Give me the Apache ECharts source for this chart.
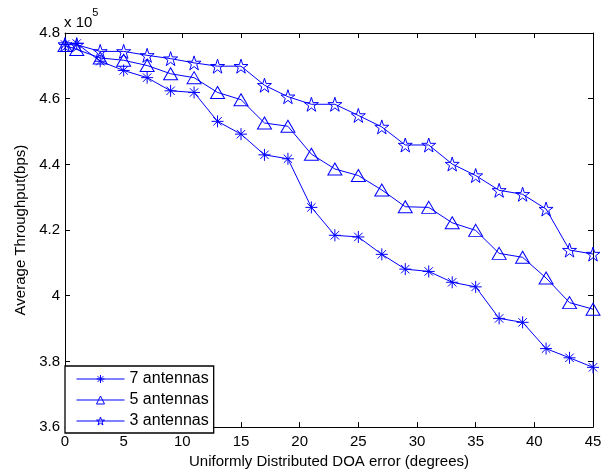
<!DOCTYPE html>
<html>
<head>
<meta charset="utf-8">
<script src="https://cdn.jsdelivr.net/npm/echarts@6/dist/echarts.min.js"></script>
<style>html,body{margin:0;padding:0;background:#fff}#c{width:609px;height:474px}</style>
</head>
<body>
<div id="c"></div>
<script>
const xValues = [0, 1, 3, 5, 7, 9, 11, 13, 15, 17, 19, 21, 23, 25, 27, 29, 31, 33, 35, 37, 39, 41, 43, 45];
const seriesNames = ['7 antennas', '5 antennas', '3 antennas'];
const ant7 = [4.765, 4.768, 4.714, 4.686, 4.664, 4.624, 4.619, 4.531, 4.492, 4.429, 4.417, 4.269, 4.184, 4.179, 4.126, 4.081, 4.074, 4.041, 4.027, 3.931, 3.919, 3.839, 3.811, 3.782];
const ant5 = [4.762, 4.750, 4.724, 4.717, 4.701, 4.676, 4.664, 4.619, 4.597, 4.526, 4.516, 4.431, 4.386, 4.366, 4.322, 4.271, 4.269, 4.222, 4.199, 4.129, 4.117, 4.054, 3.979, 3.959];
const ant3 = [4.765, 4.764, 4.744, 4.744, 4.732, 4.722, 4.709, 4.699, 4.699, 4.641, 4.606, 4.583, 4.583, 4.549, 4.514, 4.459, 4.459, 4.401, 4.366, 4.321, 4.309, 4.264, 4.139, 4.127];
const yTicks = [3.6, 3.8, 4.0, 4.2, 4.4, 4.6, 4.8];
const xTicks = [0, 5, 10, 15, 20, 25, 30, 35, 40, 45];

const BLUE = '#0000ff';
const FONT = 'Liberation Sans, Arial, Helvetica, sans-serif';
const asterisk = 'path://M0,-6L0,6M-6,0L6,0M-4.2,-4.2L4.2,4.2M-4.2,4.2L4.2,-4.2';
const pentagram = 'path://M0,-10L2.245,-3.09L9.511,-3.09L3.633,1.18L5.878,8.09L0,3.82L-5.878,8.09L-3.633,1.18L-9.511,-3.09L-2.245,-3.09Z';

function pairs(ys) { return xValues.map((x, i) => [x, ys[i]]); }
function mk(name, ys, symbol, size) {
  return {
    name: name, type: 'line', data: pairs(ys), symbol: symbol, symbolSize: size,
    showAllSymbol: true, animation: false,
    lineStyle: { color: BLUE, width: 1 },
    itemStyle: { color: 'none', borderColor: BLUE, borderWidth: 1 },
    emphasis: { disabled: true }
  };
}

const chart = echarts.init(document.getElementById('c'), null, { renderer: 'canvas' });
const axisCommon = {
  min: 0, max: 45, interval: 5,
  axisLine: { show: true, onZero: false, lineStyle: { color: '#000', width: 1 } },
  axisTick: { show: true, inside: true, length: 5, lineStyle: { color: '#000' } },
  splitLine: { show: false }
};
chart.setOption({
  backgroundColor: '#fff',
  animation: false,
  grid: { left: 65, right: 16, top: 33, bottom: 41, containLabel: false },
  xAxis: [
    Object.assign({}, axisCommon, {
      type: 'value', position: 'bottom',
      axisLabel: { color: '#000', fontSize: 15, fontFamily: FONT, margin: 7,
        formatter: v => xTicks.includes(v) ? String(v) : '' },
      name: 'Uniformly Distributed DOA error (degrees)', nameLocation: 'middle', nameGap: 25,
      nameTextStyle: { color: '#000', fontSize: 15, fontFamily: FONT }
    }),
    Object.assign({}, axisCommon, { type: 'value', position: 'top', axisLabel: { show: false } })
  ],
  yAxis: [
    {
      type: 'value', min: 3.6, max: 4.8, interval: 0.2, position: 'left',
      axisLine: { show: true, onZero: false, lineStyle: { color: '#000', width: 1 } },
      axisTick: { show: true, inside: true, length: 5, lineStyle: { color: '#000' } },
      splitLine: { show: false },
      axisLabel: { color: '#000', fontSize: 15, fontFamily: FONT, margin: 5,
        formatter: v => { const t = yTicks.find(k => Math.abs(k - v) < 1e-6); return t === undefined ? '' : String(+t.toFixed(1)); } },
      name: 'Average Throughput(bps)', nameLocation: 'middle', nameGap: 35,
      nameTextStyle: { color: '#000', fontSize: 15, fontFamily: FONT }
    },
    {
      type: 'value', min: 3.6, max: 4.8, interval: 0.2, position: 'right',
      axisLine: { show: true, onZero: false, lineStyle: { color: '#000', width: 1 } },
      axisTick: { show: true, inside: true, length: 5, lineStyle: { color: '#000' } },
      splitLine: { show: false }, axisLabel: { show: false }
    }
  ],
  legend: {
    orient: 'vertical', left: 65, bottom: 41,
    data: seriesNames,
    backgroundColor: '#fff', borderColor: '#000', borderWidth: 1.3,
    padding: [5, 5, 4, 11], itemWidth: 48, itemHeight: 10, itemGap: 5,
    itemStyle: { color: 'none', borderColor: BLUE, borderWidth: 1 },
    lineStyle: { color: BLUE, width: 1 },
    textStyle: { color: '#000', fontSize: 16, fontFamily: FONT, padding: [0, 0, 0, 0] },
    selectedMode: false
  },
  graphic: [{
    type: 'text', left: 64, top: 7,
    style: {
      text: '{a|x 10}{b|5}', fill: '#000',
      rich: { a: { fontSize: 15, fontFamily: FONT, fill: '#000', padding: [8, 0, 0, 0] },
              b: { fontSize: 11, fontFamily: FONT, fill: '#000', verticalAlign: 'top' } }
    }
  }],
  series: [
    mk(seriesNames[0], ant7, asterisk, 12),
    mk(seriesNames[1], ant5, 'path://M0,-7L7,5L-7,5Z', [14, 12]),
    mk(seriesNames[2], ant3, pentagram, 14)
  ]
});
</script>
</body>
</html>
